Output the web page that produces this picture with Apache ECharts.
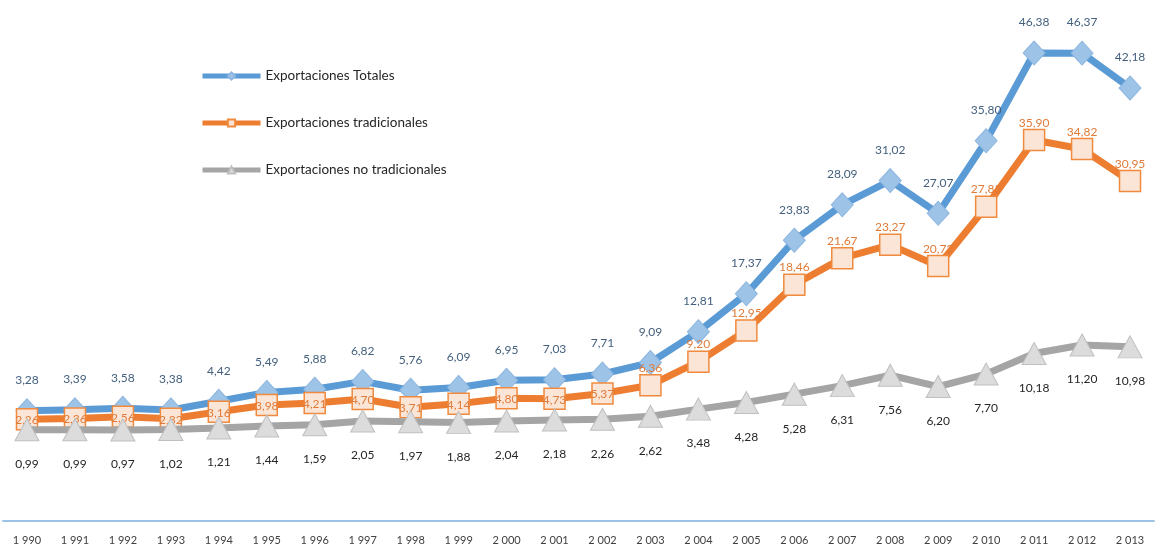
<!DOCTYPE html>
<html>
<head>
<meta charset="utf-8">
<script src="https://cdn.jsdelivr.net/npm/echarts@6/dist/echarts.min.js"></script>
<style>
  html, body { margin: 0; padding: 0; background: #fff; }
  #chart { width: 1170px; height: 546px; }
</style>
</head>
<body>
<div id="chart"></div>
<script>
// Exportaciones anuales (miles de millones)
const years = ['1990','1991','1992','1993','1994','1995','1996','1997','1998','1999','2000','2001',
               '2002','2003','2004','2005','2006','2007','2008','2009','2010','2011','2012','2013'];
const totales = [3.28, 3.39, 3.58, 3.38, 4.42, 5.49, 5.88, 6.82, 5.76, 6.09, 6.95, 7.03,
                 7.71, 9.09, 12.81, 17.37, 23.83, 28.09, 31.02, 27.07, 35.80, 46.38, 46.37, 42.18];
const tradicionales = [2.26, 2.36, 2.56, 2.32, 3.16, 3.98, 4.21, 4.70, 3.71, 4.14, 4.80, 4.73,
                       5.37, 6.36, 9.20, 12.95, 18.46, 21.67, 23.27, 20.72, 27.85, 35.90, 34.82, 30.95];
const noTradicionales = [0.99, 0.99, 0.97, 1.02, 1.21, 1.44, 1.59, 2.05, 1.97, 1.88, 2.04, 2.18,
                         2.26, 2.62, 3.48, 4.28, 5.28, 6.31, 7.56, 6.20, 7.70, 10.18, 11.20, 10.98];
const seriesNames = ['Exportaciones Totales', 'Exportaciones tradicionales', 'Exportaciones no tradicionales'];

const FONT = 'Lato, "Open Sans", sans-serif';
const fmt = v => v.toFixed(2).replace('.', ',');
const fmtYear = y => y.slice(0, 1) + ' ' + y.slice(1);

// Early traditional-export labels sit centred on their markers, later ones above
const tradData = tradicionales.map((v, i) => ({
  value: v,
  label: i < 13 ? { position: 'inside', offset: [0, 1] } : { position: 'top', distance: 0 }
}));

const chart = echarts.init(document.getElementById('chart'), null, { renderer: 'canvas' });
chart.setOption({
  animation: false,
  backgroundColor: '#ffffff',
  textStyle: { fontFamily: FONT },
  grid: { left: 3, right: 16, top: 23, bottom: 23 },
  legend: {
    orient: 'vertical',
    left: 195,
    top: 64,
    itemGap: 33,
    itemWidth: 58,
    itemHeight: 9,
    lineStyle: { width: 5 },
    textStyle: { fontSize: 13.5, color: '#262626', fontFamily: FONT },
    data: seriesNames
  },
  xAxis: {
    type: 'category',
    data: years,
    boundaryGap: true,
    axisLine: { show: true, onZero: false, lineStyle: { color: '#9DC3E6', width: 2 } },
    axisTick: { show: false },
    axisLabel: { formatter: fmtYear, color: '#404040', fontSize: 11, margin: 14, fontFamily: FONT }
  },
  yAxis: {
    type: 'value',
    min: -10,
    max: 50,
    show: false,
    splitLine: { show: false }
  },
  series: [
    {
      name: seriesNames[0],
      type: 'line',
      data: totales,
      symbol: 'diamond',
      symbolSize: [22, 24],
      lineStyle: { color: '#5B9BD5', width: 7 },
      itemStyle: { color: '#9DC3E6', borderColor: '#8DB6E0', borderWidth: 1 },
      label: {
        show: true, position: 'top', distance: 12, formatter: p => fmt(p.value),
        color: '#44607E', fontSize: 12, fontFamily: FONT
      },
      z: 2
    },
    {
      name: seriesNames[1],
      type: 'line',
      data: tradData,
      symbol: 'rect',
      symbolSize: 21,
      lineStyle: { color: '#ED7D31', width: 7 },
      itemStyle: { color: '#FBE5D6', borderColor: '#F08A3E', borderWidth: 1.5 },
      label: {
        show: true, formatter: p => fmt(p.value),
        color: '#E07B39', fontSize: 12, fontFamily: FONT
      },
      z: 3
    },
    {
      name: seriesNames[2],
      type: 'line',
      data: noTradicionales,
      symbol: 'triangle',
      symbolSize: [24, 22],
      lineStyle: { color: '#A5A5A5', width: 7 },
      itemStyle: { color: '#DCDCDC', borderColor: '#BFBFBF', borderWidth: 1 },
      label: {
        show: true, position: 'bottom', distance: 17, formatter: p => fmt(p.value),
        color: '#262626', fontSize: 12, fontFamily: FONT
      },
      z: 4
    }
  ]
});
</script>
</body>
</html>
